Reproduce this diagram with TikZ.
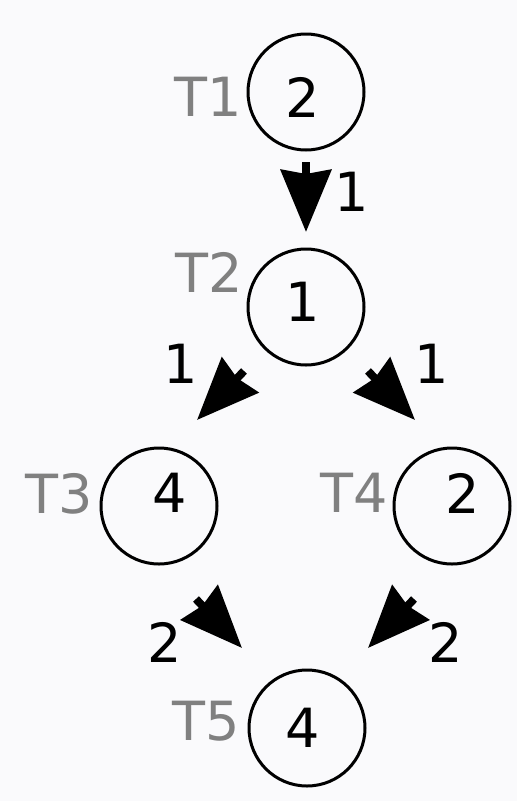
\documentclass[tikz,border=0pt]{standalone}
\usepackage{fontspec}
\setmainfont{DejaVu Sans}
\usetikzlibrary{arrows.meta}
\definecolor{bgc}{RGB}{250,250,252}
\definecolor{lblgray}{RGB}{128,128,128}
\begin{document}
\begin{tikzpicture}[x=1pt,y=-1pt,
  taskcircle/.style={circle,draw=black,line width=3pt,minimum size=116pt,inner sep=0pt},
  weight/.style={font=\fontsize{54}{60}\selectfont,text=black,inner sep=0pt,text depth=0pt},
  tname/.style={font=\fontsize{54}{60}\selectfont,text=lblgray,inner sep=0pt,text depth=0pt},
  arr/.style={line width=8pt,-{Stealth[length=62pt,width=50pt,inset=4pt]}}]
\fill[bgc] (0,0) rectangle (517,801);
\useasboundingbox (0,0) rectangle (517,801);
% circles
\node[taskcircle] (c1) at (306,92) {};
\node[taskcircle] (c2) at (306,307) {};
\node[taskcircle] (c3) at (159,506) {};
\node[taskcircle] (c4) at (452,506) {};
\node[taskcircle] (c5) at (307,728) {};
% numbers inside
\node[weight] (n1) at (303,97) {2};
\node[weight] (n2) at (303,302) {1};
\node[weight] (n3) at (170,493) {4};
\node[weight] (n4) at (463,493) {2};
\node[weight] (n5) at (303,728) {4};
% task names
\node[tname] (t1) at (208,97) {T1};
\node[tname] (t2) at (209,272) {T2};
\node[tname] (t3) at (59,493) {T3};
\node[tname] (t4) at (354,493) {T4};
\node[tname] (t5) at (206,721) {T5};
% arrow endpoints
\coordinate (a12s) at (306,162);
\coordinate (a12e) at (306,232);
\coordinate (a23s) at (244,371);
\coordinate (a23e) at (197,420);
\coordinate (a24s) at (368,371);
\coordinate (a24e) at (415,420);
\coordinate (a35s) at (196,599);
\coordinate (a35e) at (242,648);
\coordinate (a45s) at (414,599);
\coordinate (a45e) at (368,648);
\draw[arr] (a12s) -- (a12e);
\draw[arr] (a23s) -- (a23e);
\draw[arr] (a24s) -- (a24e);
\draw[arr] (a35s) -- (a35e);
\draw[arr] (a45s) -- (a45e);
% edge weights
\node[weight] (w12) at (352,192) {1};
\node[weight] (w23) at (181,364) {1};
\node[weight] (w24) at (432,364) {1};
\node[weight] (w35) at (165,642) {2};
\node[weight] (w45) at (446,642) {2};
\end{tikzpicture}
\end{document}
